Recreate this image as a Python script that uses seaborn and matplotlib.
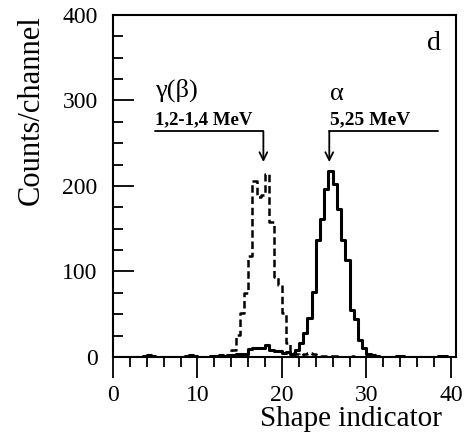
import numpy as np
import pandas as pd
import matplotlib
matplotlib.use("Agg")
import matplotlib.pyplot as plt
import seaborn as sns
from matplotlib.ticker import MultipleLocator

# histogram data, bin width 0.5 from 0 to 40
bin_edges = [i * 0.5 for i in range(81)]
alpha_counts = [0, 0, 0, 0, 0, 0, 0, 1, 2, 1,
                0, 0, 0, 0, 0, 0, 0, 1, 2, 1,
                0, 0, 0, 1, 1, 2, 1, 2, 2, 3,
                3, 4, 9, 10, 10, 11, 14, 8, 7, 7,
                5, 6, 4, 8, 16, 28, 45, 76, 137, 161,
                196, 218, 202, 173, 137, 114, 55, 44, 20, 10,
                4, 2, 1, 0, 0, 0, 0, 1, 1, 0,
                0, 0, 0, 0, 0, 0, 0, 1, 1, 0]
gamma_counts = [0, 0, 0, 0, 0, 0, 0, 0, 0, 0,
                0, 0, 0, 0, 0, 0, 0, 0, 0, 0,
                0, 0, 0, 0, 0, 1, 1, 2, 8, 26,
                51, 75, 118, 206, 187, 190, 214, 158, 94, 84,
                51, 16, 5, 3, 2, 3, 5, 4, 2, 1,
                1, 1, 1, 1, 0, 0, 1, 0, 0, 0,
                0, 0, 0, 0, 0, 0, 0, 0, 0, 0,
                0, 0, 0, 0, 0, 0, 0, 0, 0, 0]

df = pd.DataFrame({
    'center': np.array(bin_edges[:-1]) + 0.25,
    'alpha': alpha_counts,
    'gamma': gamma_counts,
})

# annotation positions (data units)
gamma_label_x, alpha_label_x = 5.0, 25.7
gamma_arrow_x, alpha_arrow_x = 17.8, 25.6
arrow_y_top, arrow_y_tip = 264, 228

sns.set_theme(style="ticks")
plt.rcParams['font.family'] = ['Liberation Serif', 'DejaVu Serif']
plt.rcParams['text.color'] = 'black'
plt.rcParams['axes.labelcolor'] = 'black'

fig = plt.figure(figsize=(4.75, 4.38), dpi=100)
ax = fig.add_axes([0.2379, 0.185, 0.7221, 0.7808])

sns.histplot(data=df, x='center', weights='gamma', bins=bin_edges, element="step",
             fill=False, color="black", linewidth=1.8, linestyle=(0, (3, 1.5)), ax=ax)
sns.histplot(data=df, x='center', weights='alpha', bins=bin_edges, element="step",
             fill=False, color="black", linewidth=2.2, ax=ax)

ax.set_xlim(0, 40.6)
ax.set_ylim(0, 400)
ax.xaxis.set_major_locator(MultipleLocator(10))
ax.xaxis.set_minor_locator(MultipleLocator(2))
ax.yaxis.set_major_locator(MultipleLocator(100))
ax.yaxis.set_minor_locator(MultipleLocator(25))

ax.tick_params(axis='x', which='both', direction='out', width=1.3, labelsize=17, pad=5, colors='black')
ax.tick_params(axis='x', which='major', length=15)
ax.tick_params(axis='x', which='minor', length=7)
ax.tick_params(axis='y', which='both', direction='in', width=1.3, labelsize=17, pad=11, colors='black')
ax.tick_params(axis='y', which='major', length=15)
ax.tick_params(axis='y', which='minor', length=7)
for sp in ax.spines.values():
    sp.set_visible(True)
    sp.set_linewidth(1.5)
    sp.set_color('black')

ax.set_xlabel("Shape indicator", fontsize=21, loc='right')
ax.set_ylabel("Counts/channel", fontsize=22, loc='top')
ax.xaxis.set_label_coords(0.959, -0.143)
ax.yaxis.set_label_coords(-0.196, 1.0)

# panel letter and labels
ax.text(38.8, 359, "d", fontsize=20, ha='right', va='baseline')
ax.text(gamma_label_x, 304, "γ(β)", fontsize=19, ha='left', va='baseline')
ax.text(gamma_label_x, 272, "1,2-1,4 MeV", fontsize=13.5, fontweight='bold', ha='left', va='baseline')
ax.text(alpha_label_x, 300, "α", fontsize=19, ha='left', va='baseline')
ax.text(alpha_label_x, 272, "5,25 MeV", fontsize=14, fontweight='bold', ha='left', va='baseline')

# arrows
ax.plot([gamma_label_x, gamma_arrow_x], [arrow_y_top, arrow_y_top], color='black', lw=1.3)
ax.plot([alpha_arrow_x, 38.5], [arrow_y_top, arrow_y_top], color='black', lw=1.3)
for xa in (gamma_arrow_x, alpha_arrow_x):
    ax.annotate("", xy=(xa, arrow_y_tip), xytext=(xa, arrow_y_top),
                arrowprops=dict(arrowstyle='->', color='black', lw=1.3,
                                shrinkA=0, shrinkB=0, mutation_scale=14))

fig.savefig("out.png", dpi=100)
